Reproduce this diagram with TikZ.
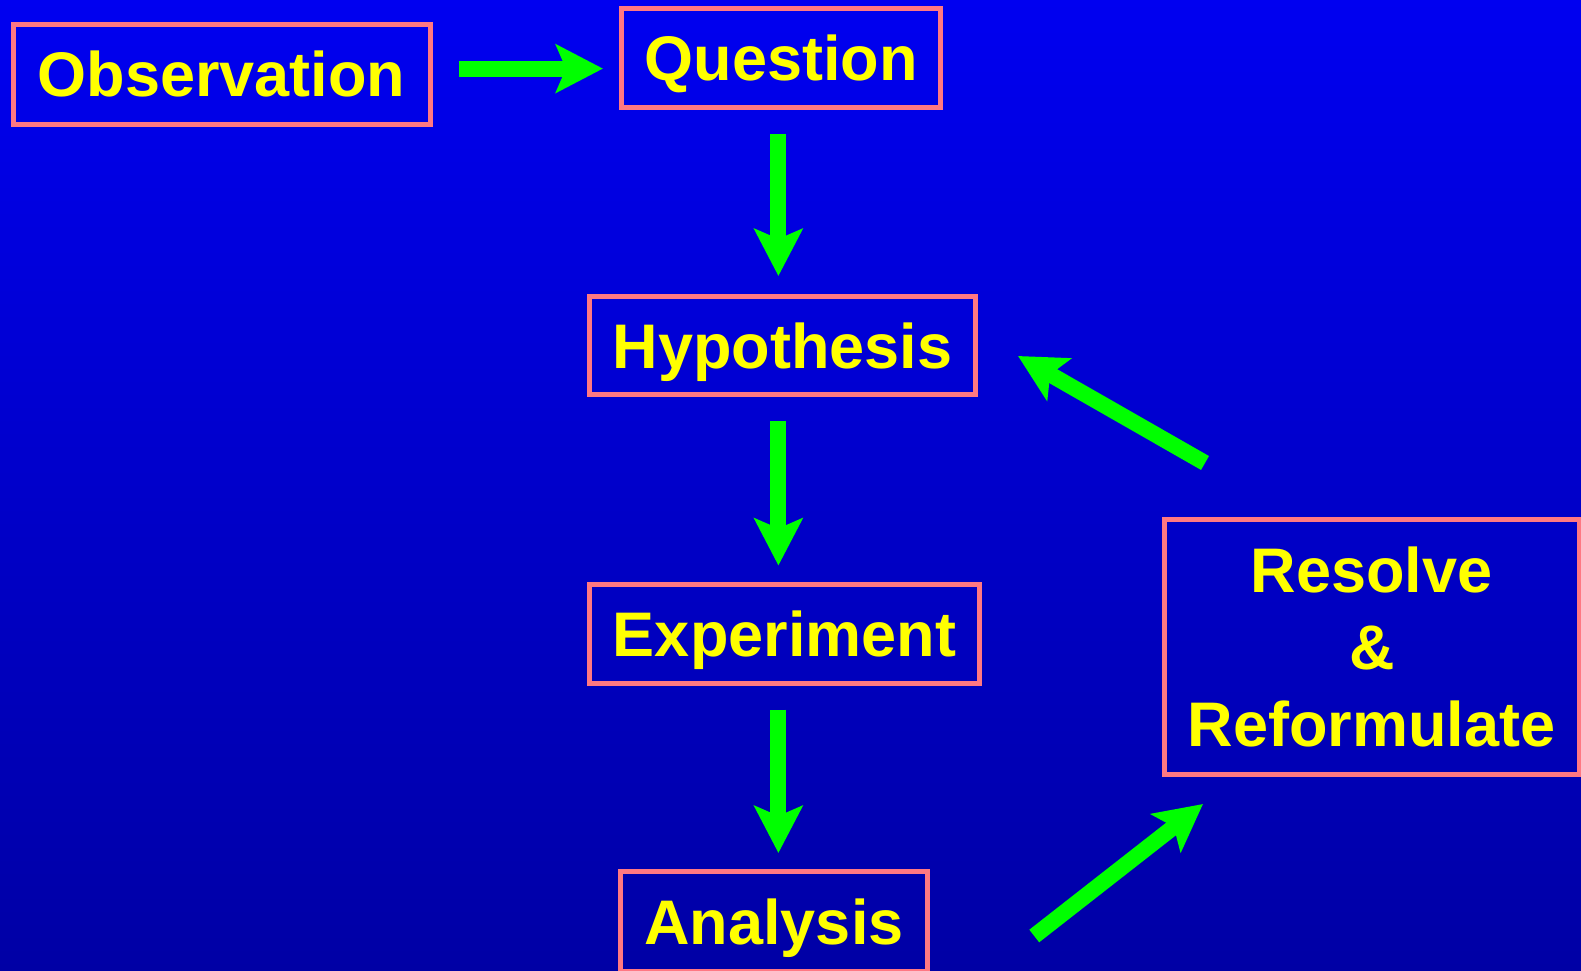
\documentclass[tikz,border=0pt]{standalone}
\usepackage{fontspec}
\setmainfont{Liberation Sans}
\usetikzlibrary{arrows.meta}
\definecolor{slidetop}{RGB}{0,0,240}
\definecolor{slidebottom}{RGB}{0,0,165}
\definecolor{boxpink}{RGB}{255,120,130}
\definecolor{flowgreen}{RGB}{0,255,0}
\definecolor{labelyellow}{RGB}{255,255,0}

\begin{document}
\begin{tikzpicture}[x=1pt,y=-1pt,
  box/.style={draw=boxpink,line width=5pt,text=labelyellow,inner sep=0pt,
    font=\bfseries\fontsize{63}{77}\selectfont},
  stage/.style={box,text height=45pt,text depth=0pt},
  flow/.style={draw=flowgreen,line width=16pt,-{Stealth[length=47pt,width=48pt,inset=10pt]}}]
\shade[top color=slidetop,bottom color=slidebottom] (0,0) rectangle (1581,970);
\useasboundingbox (0,0) rectangle (1581,970);
\node[stage,minimum width=417pt,minimum height=100pt] (obs) at (221.5,74) {Observation};
\node[stage,minimum width=319pt,minimum height=99pt] (que) at (781,58) {Question};
\node[stage,minimum width=386pt,minimum height=98pt] (hyp) at (782.5,345.5) {Hypothesis};
\node[stage,minimum width=390pt,minimum height=99pt] (exp) at (784.5,634) {Experiment};
\node[stage,minimum width=307.5pt,minimum height=100pt] (ana) at (774,921.5) {Analysis};
\node[box,align=center,minimum width=414.5pt,minimum height=255pt] (res) at (1371.75,647)
  {Resolve\\\&\\Reformulate};
\draw[flow] ([xshift=26pt,yshift=5.4pt]obs.east) -- ([xshift=-16pt,yshift=-10.6pt]que.west);
\draw[flow] ([xshift=-2.6pt,yshift=-24pt]que.south) -- ([xshift=-4.1pt,yshift=18pt]hyp.north);
\draw[flow] ([xshift=-4.1pt,yshift=-24pt]hyp.south) -- ([xshift=-6.1pt,yshift=16.5pt]exp.north);
\draw[flow] ([xshift=-6.1pt,yshift=-23.5pt]exp.south) -- ([xshift=4.4pt,yshift=16pt]ana.north);
\draw[flow] ([xshift=104pt,yshift=-14.5pt]ana.east) -- ([xshift=41pt,yshift=-27pt]res.south west);
\draw[flow] ([xshift=43pt,yshift=54pt]res.north west) -- ([xshift=40pt,yshift=-10.5pt]hyp.east);
\end{tikzpicture}
\end{document}
